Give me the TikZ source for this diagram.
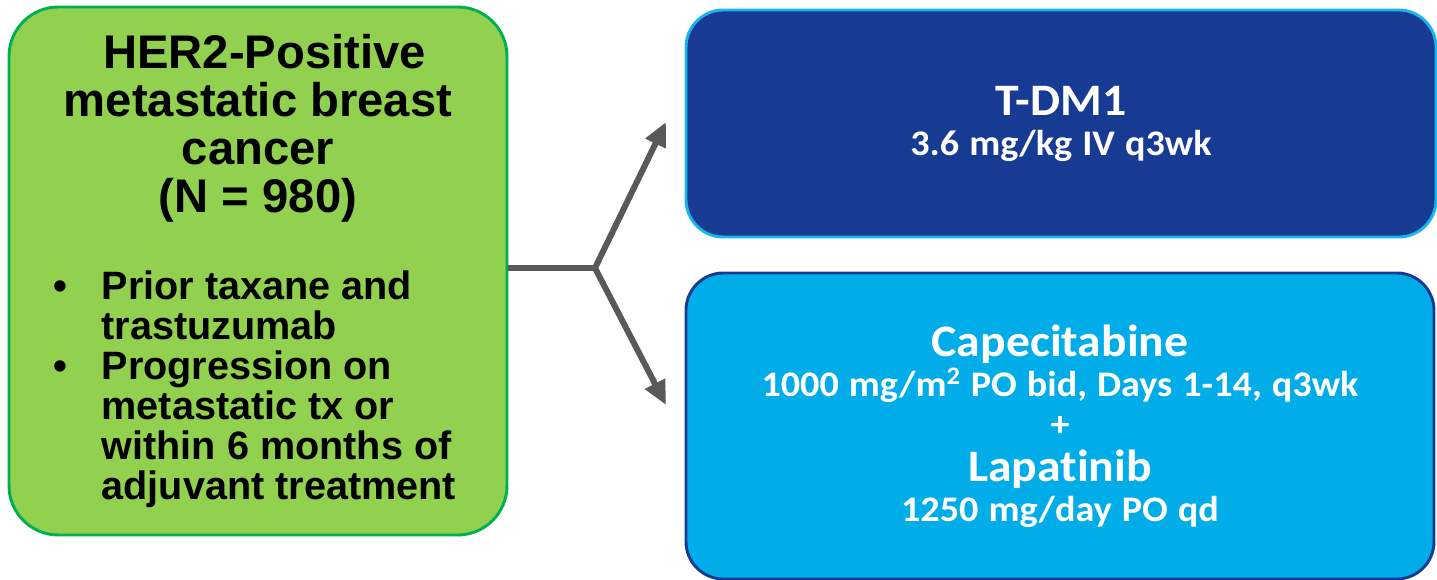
\documentclass[tikz,border=0pt]{standalone}
\usepackage{fontspec}
\setmainfont{Liberation Sans}
\newfontfamily\armfont[FakeStretch=1.06, Ligatures=NoCommon]{Carlito}
\usepackage{tikz}
\usetikzlibrary{positioning,arrows.meta,calc}
\definecolor{cohortfill}{HTML}{92D050}
\definecolor{cohortdraw}{HTML}{00B050}
\definecolor{tdmfill}{HTML}{173A93}
\definecolor{capefill}{HTML}{00ADE9}
\definecolor{lightedge}{HTML}{1AB4EA}
\definecolor{splitgray}{HTML}{595959}

% fixed word space
\newcommand{\wordgap}[1]{\spaceskip=#1\relax}
\newcommand{\bulletitem}[1]{\par\noindent\hangindent=69.5pt\hangafter=1\hspace*{33pt}\makebox[36.5pt][l]{\textbullet}#1\par}

\begin{document}
\begin{tikzpicture}[
      x=0.75pt, y=-0.75pt,
      cohort/.style={rectangle, draw=cohortdraw, line width=2.2pt, rounded corners=37pt,
                     fill=cohortfill, text width=373.5pt, minimum height=396pt,
                     inner sep=0pt, font=\bfseries},
      arm/.style={rectangle, line width=2.2pt, rounded corners=28pt, inner sep=0pt,
                  text=white, text width=540pt, align=center, font=\armfont\bfseries},
      split/.style={line width=4.5pt, splitgray},
      tip/.style={-{Triangle[length=18pt,width=16pt]}},
    ]
    \useasboundingbox (0,0) rectangle (1437,580);

    \node[cohort] (cohort) at (258,271) {%
      {\centering\fontsize{35.4}{36}\selectfont\wordgap{.278em}
       HER2-Positive\\ metastatic breast\\ cancer\\ (N = 980)\par}
      \vspace{35pt}
      {\raggedright\fontsize{29.7}{30}\selectfont\wordgap{.278em}
      \bulletitem{Prior taxane and\newline trastuzumab}
      \bulletitem{Progression on\newline metastatic tx or\newline within 6 months of\newline adjuvant treatment}}};

    \node[arm, draw=lightedge, fill=tdmfill, minimum width=562.5pt, minimum height=170.25pt]
      (tdm) at (1061,123.5) {%
      {\fontsize{33.75}{30}\selectfont T-DM1\par}
      {\fontsize{27}{30}\selectfont\wordgap{7.5pt} 3.6 mg/kg IV q3wk\par}};

    \node[arm, draw=tdmfill, fill=capefill, minimum width=561pt, minimum height=229.5pt]
      (cape) at (1060,426) {%
      {\fontsize{33.75}{30}\selectfont Capecitabine\par}
      {\fontsize{27}{30}\selectfont\wordgap{7.5pt} 1000 mg/m\textsuperscript{2} PO bid, Days 1-14, q3wk\par}
      {\fontsize{27}{30}\selectfont +\par}
      {\fontsize{33.75}{33.75}\selectfont Lapatinib\par}
      {\fontsize{27}{30}\selectfont\wordgap{7.5pt} 1250 mg/day PO qd\par}};

    % randomisation fork
    \coordinate (fork) at (595,268);
    \coordinate (upper) at (666,122);
    \coordinate (lower) at (666,405);

    \draw[split] (cohort.east |- fork) -- (fork);
    \draw[split, tip, line join=round] (fork) -- (upper);
    \draw[split, tip, line join=round] (fork) -- (lower);
  \end{tikzpicture}
\end{document}
